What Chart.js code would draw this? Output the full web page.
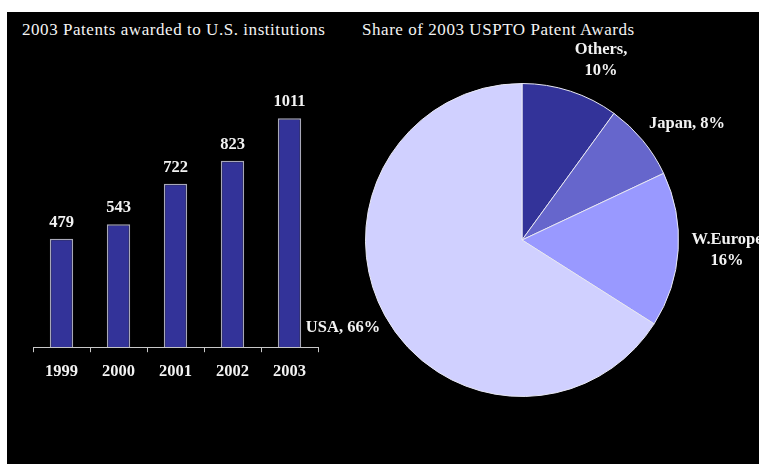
<!DOCTYPE html>
<html>
<head>
<meta charset="utf-8">
<script src="https://cdn.jsdelivr.net/npm/chart.js@4/dist/chart.umd.min.js"></script>
<style>
  html, body { margin: 0; padding: 0; background: #ffffff; width: 759px; height: 464px; overflow: hidden; }
  #panel { position: absolute; left: 7px; top: 12px; width: 752px; height: 452px; background: #000000; }
  .title { position: absolute; color: #f4f4f4; font-family: "Liberation Serif", "Times New Roman", serif; font-size: 17px; white-space: nowrap; letter-spacing: 0.55px; }
  #barWrap { position: absolute; left: 7px; top: 12px; width: 345px; height: 452px; }
  #pieWrap { position: absolute; left: 290px; top: 12px; width: 469px; height: 452px; }
</style>
</head>
<body>
<div id="panel"></div>
<div class="title" style="left:22px; top:20px;">2003 Patents awarded to U.S. institutions</div>
<div class="title" style="left:362px; top:20px;">Share of 2003 USPTO Patent Awards</div>
<div id="barWrap"><canvas id="bar" width="345" height="452"></canvas></div>
<div id="pieWrap"><canvas id="pie" width="469" height="452"></canvas></div>
<script>
// ---- data ----
const years = ["1999", "2000", "2001", "2002", "2003"];
const patents = [479, 543, 722, 823, 1011];

const regions = ["Others", "Japan", "W.Europe", "USA"];
const shares = [10, 8, 16, 66];
const shareLabelLines = [["Others,", "10%"], ["Japan, 8%"], ["W.Europe", "16%"], ["USA, 66%"]];
const shareColors = ["#333399", "#6666cc", "#9999ff", "#d0d0ff"];

const labelFont = 'bold 16.5px "Liberation Serif", "Times New Roman", serif';

// value labels above bars
const barValuePlugin = {
  id: 'barValues',
  afterDatasetsDraw(chart) {
    const ctx = chart.ctx;
    const meta = chart.getDatasetMeta(0);
    ctx.save();
    ctx.font = labelFont;
    ctx.fillStyle = '#f2f2f2';
    ctx.textAlign = 'center';
    ctx.textBaseline = 'middle';
    meta.data.forEach((el, i) => {
      ctx.fillText(String(chart.data.datasets[0].data[i]), el.x, el.y - 16);
    });
    ctx.restore();
  }
};

new Chart(document.getElementById('bar'), {
  type: 'bar',
  data: {
    labels: years,
    datasets: [{
      data: patents,
      backgroundColor: '#333399',
      borderColor: '#a8a8b8',
      borderWidth: 1.5,
      borderSkipped: 'start',
      categoryPercentage: 1.0,
      barPercentage: 0.41
    }]
  },
  options: {
    responsive: false,
    animation: false,
    events: [],
    layout: { padding: { left: 26, right: 34, top: 86, bottom: 72 } },
    plugins: { legend: { display: false }, tooltip: { enabled: false } },
    scales: {
      y: { display: false, min: 0, max: 1100 },
      x: {
        grid: { display: true, offset: true, drawOnChartArea: false, drawTicks: true, tickLength: 5, color: '#c8c8c8', lineWidth: 1 },
        border: { display: true, color: '#c8c8c8', width: 1 },
        ticks: { color: '#f2f2f2', padding: 10, font: { family: '"Liberation Serif", "Times New Roman", serif', size: 16.5, weight: 'bold' } }
      }
    }
  },
  plugins: [barValuePlugin]
});

// labels around the pie (offsets relative to pie centre, in px)
const pieLabelOffsets = [[79, -190], [165, -116], [205, 0], [-179, 88]];
const pieLabelPlugin = {
  id: 'pieLabels',
  afterDatasetsDraw(chart) {
    const ctx = chart.ctx;
    const el = chart.getDatasetMeta(0).data[0];
    const cx = el.x, cy = el.y;
    ctx.save();
    ctx.font = labelFont;
    ctx.fillStyle = '#f2f2f2';
    ctx.textAlign = 'center';
    ctx.textBaseline = 'middle';
    shareLabelLines.forEach((lines, i) => {
      const [dx, dy] = pieLabelOffsets[i];
      lines.forEach((t, j) => ctx.fillText(t, cx + dx, cy + dy + j * 21));
    });
    ctx.restore();
  }
};

new Chart(document.getElementById('pie'), {
  type: 'pie',
  data: {
    labels: regions,
    datasets: [{
      data: shares,
      backgroundColor: shareColors,
      borderColor: '#e8e8f4',
      borderWidth: 1
    }]
  },
  options: {
    responsive: false,
    animation: false,
    events: [],
    layout: { padding: { left: 75, right: 80, top: 71, bottom: 67 } },
    plugins: { legend: { display: false }, tooltip: { enabled: false } }
  },
  plugins: [pieLabelPlugin]
});
</script>
</body>
</html>
